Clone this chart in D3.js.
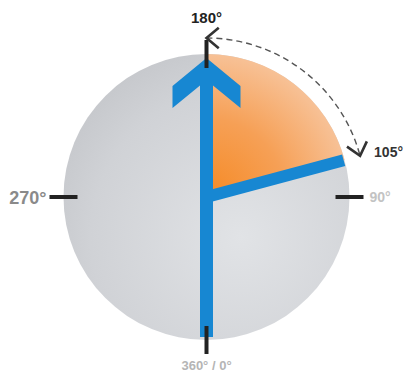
<!DOCTYPE html>
<html>
<head>
<meta charset="utf-8">
<script src="https://cdn.jsdelivr.net/npm/d3@7"></script>
<style>
  body { margin: 0; background: #fff; }
  svg { display: block; }
  text { font-family: "Liberation Sans", Arial, sans-serif; font-weight: bold; }
</style>
</head>
<body>
<script>
// compass values
var tickAngles = [0, 90, 180, 270];
var headingAngle = [180];
var targetAngle = [105];
var turnFrom = [180];
var turnTo = [105];
var tickLabels = ['360° / 0°', '90°', '180°', '270°'];
var turnLabel = ['105°'];

var width = 408, height = 372;
var cx = 206.5, cy = 197, R = 143;

var svg = d3.select('body').append('svg')
    .attr('width', width)
    .attr('height', height)

// 180 at top, 90 at right, 270 at left, 0 at bottom
var angle = d3.scaleLinear().domain([0, 360]).range([Math.PI, -Math.PI])

function pt(a, r) {
    var t = angle(a)
    return [cx + r * Math.sin(t), cy - r * Math.cos(t)]
}

var defs = svg.append('defs')

var gGray = defs.append('radialGradient').attr('id', 'gray')
    .attr('cx', 0.62).attr('cy', 0.64).attr('r', 0.75)
gGray.append('stop').attr('offset', 0).attr('stop-color', '#e1e3e6')
gGray.append('stop').attr('offset', 0.7).attr('stop-color', '#d0d2d6')
gGray.append('stop').attr('offset', 1).attr('stop-color', '#c3c5c9')

var gOrange = defs.append('radialGradient').attr('id', 'orange')
    .attr('gradientUnits', 'userSpaceOnUse')
    .attr('cx', 0).attr('cy', 0).attr('r', R)
gOrange.append('stop').attr('offset', 0).attr('stop-color', '#f58a25')
gOrange.append('stop').attr('offset', 0.55).attr('stop-color', '#f6a056')
gOrange.append('stop').attr('offset', 1).attr('stop-color', '#f7c196')

var g = svg.append('g')

// dial
g.append('circle')
    .attr('cx', cx).attr('cy', cy).attr('r', R)
    .attr('fill', 'url(#gray)')

// swept sector
var arc = d3.arc().innerRadius(0).outerRadius(R)
g.append('path')
    .attr('transform', 'translate(' + cx + ',' + cy + ')')
    .attr('d', arc({ startAngle: angle(turnFrom[0]), endAngle: angle(turnTo[0]) }))
    .attr('fill', 'url(#orange)')

// target line
g.selectAll('.target')
    .data(targetAngle)
    .enter().append('line')
    .attr('x1', cx).attr('y1', cy)
    .attr('x2', function (d) { return pt(d, R - 1)[0] })
    .attr('y2', function (d) { return pt(d, R - 1)[1] })
    .attr('stroke', '#1787d2')
    .attr('stroke-width', 12)

// heading arrow
function arrowPath(a) {
    var t = angle(a)
    var ax = [Math.sin(t), -Math.cos(t)], lat = [Math.cos(t), Math.sin(t)]
    var w = 6.5
    var shape = [[139, 0], [111, 34], [89, 34], [111.6, w], [-140, w],
                 [-140, -w], [111.6, -w], [89, -34], [111, -34]]
    return d3.line()(shape.map(function (p) {
        return [cx + p[0] * ax[0] + p[1] * lat[0], cy + p[0] * ax[1] + p[1] * lat[1]]
    })) + 'Z'
}
g.selectAll('.heading')
    .data(headingAngle)
    .enter().append('path')
    .attr('d', arrowPath)
    .attr('fill', '#1787d2')

// ticks
g.selectAll('.tick')
    .data(tickAngles)
    .enter().append('line')
    .attr('x1', function (d) { return pt(d, 129)[0] })
    .attr('y1', function (d) { return pt(d, 129)[1] })
    .attr('x2', function (d) { return pt(d, 157)[0] })
    .attr('y2', function (d) { return pt(d, 157)[1] })
    .attr('stroke', '#222')
    .attr('stroke-width', 4)

// dashed turn arc with arrowheads
var ar = 159
var p = d3.path()
p.arc(cx, cy, ar, angle(turnFrom[0]) - Math.PI / 2, angle(turnTo[0]) - Math.PI / 2, false)
g.append('path')
    .attr('d', p.toString())
    .attr('fill', 'none')
    .attr('stroke', '#555')
    .attr('stroke-width', 1.4)
    .attr('stroke-dasharray', '6,4')

function headPath(a, dir) {
    var t = angle(a)
    var v = pt(a, ar)
    // pointing direction along tangent
    var d = [dir * Math.cos(t), dir * Math.sin(t)]
    var back = [-d[0], -d[1]]
    var L = 16, s = 40 * Math.PI / 180
    function rot(vec, k) {
        return [vec[0] * Math.cos(k) - vec[1] * Math.sin(k), vec[0] * Math.sin(k) + vec[1] * Math.cos(k)]
    }
    var a1 = rot(back, s), a2 = rot(back, -s)
    return d3.line()([[v[0] + L * a1[0], v[1] + L * a1[1]], v, [v[0] + L * a2[0], v[1] + L * a2[1]]])
}
g.append('path').attr('d', headPath(turnFrom[0], -1))
    .attr('fill', 'none').attr('stroke', '#333').attr('stroke-width', 2.6)
g.append('path').attr('d', headPath(turnTo[0], 1))
    .attr('fill', 'none').attr('stroke', '#333').attr('stroke-width', 2.6)

// labels
var posBottom = pt(tickAngles[0], 173)
svg.append('text').attr('x', posBottom[0]).attr('y', posBottom[1])
    .attr('text-anchor', 'middle').attr('font-size', 13).attr('fill', '#b5b5b5')
    .text(tickLabels[0])
var posRight = pt(tickAngles[1], 163)
svg.append('text').attr('x', posRight[0]).attr('y', posRight[1] + 5)
    .attr('text-anchor', 'start').attr('font-size', 14).attr('fill', '#c3c3c3')
    .text(tickLabels[1])
var posTop = pt(tickAngles[2], 174)
svg.append('text').attr('x', posTop[0]).attr('y', posTop[1])
    .attr('text-anchor', 'middle').attr('font-size', 15).attr('fill', '#222')
    .text(tickLabels[2])
var posLeft = pt(tickAngles[3], 160)
svg.append('text').attr('x', posLeft[0]).attr('y', posLeft[1] + 7)
    .attr('text-anchor', 'end').attr('font-size', 18).attr('fill', '#8a8a8a')
    .text(tickLabels[3])
var posTurn = pt(turnTo[0], ar)
svg.append('text').attr('x', posTurn[0] + 14).attr('y', posTurn[1] + 1)
    .attr('text-anchor', 'start').attr('font-size', 14).attr('fill', '#333')
    .text(turnLabel[0])
</script>
</body>
</html>
